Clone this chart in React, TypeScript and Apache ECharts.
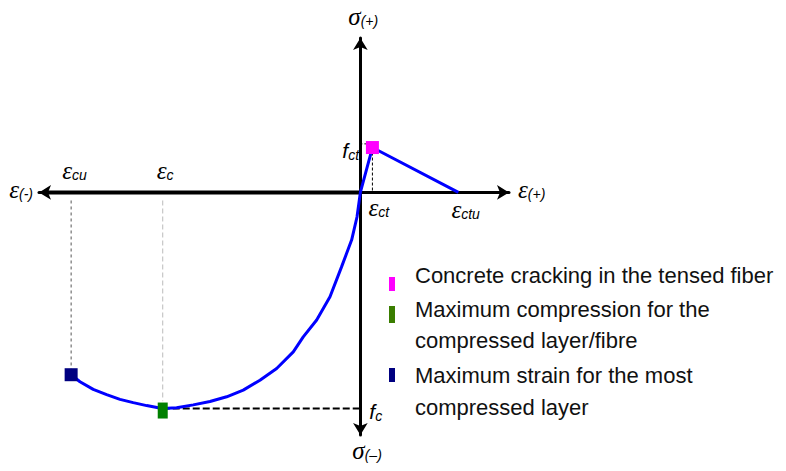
import { useEffect, useRef } from 'react';
import * as echarts from 'echarts';

// Axis extents (strain in ‰, stress in MPa) – schematic diagram
const X_MIN = -4;
const X_MAX = 1.85;
const Y_MIN = -33;
const Y_MAX = 21;

// Compression branch (from ultimate strain to origin)
const compStrain = [-3.6, -3.49, -3.325, -3.158, -2.992, -2.827, -2.66, -2.516, -2.46, -2.287, -2.08, -1.872, -1.664, -1.458, -1.25, -1.042, -0.835, -0.711, -0.544, -0.378, -0.233, -0.108, -0.042, 0];
const compStress = [-24.8, -25.75, -26.8, -27.5, -28.15, -28.6, -29.0, -29.3, -29.4, -29.3, -28.9, -28.45, -27.8, -26.9, -25.55, -23.95, -21.7, -19.65, -17.35, -14.2, -10.1, -6.45, -3.35, 0];

// Tension branch
const tensStrain = [0, 0.15, 1.22];
const tensStress = [0, 6.1, 0];

// Characteristic points
const epsCu = -3.6;
const sigCu = -24.8;
const epsC = -2.46;
const fc = -29.4;
const epsCt = 0.15;
const fct = 6.1;
const epsCtu = 1.22;

const legendItems = [
  'Concrete cracking in the tensed fiber',
  'Maximum compression for the',
  'compressed layer/fibre',
  'Maximum strain for the most',
  'compressed layer',
];

const BLUE = '#0000ff';
const MAGENTA = '#ff00ff';
const GREEN = '#008000';
const LEGEND_GREEN = '#3a7d00';
const NAVY = '#000080';

const SERIF = '"Liberation Serif", "DejaVu Serif", serif';
const SANS = '"Liberation Sans", Arial, sans-serif';

function symLabel(main: string, sub: string, x: number, y: number, align: string = 'left') {
  return {
    type: 'text',
    x,
    y,
    style: {
      text: `{m|${main}}{s|${sub}}`,
      align,
      verticalAlign: 'top',
      rich: {
        m: { fontFamily: SERIF, fontStyle: 'italic', fontSize: 25, fill: '#000', verticalAlign: 'top' },
        s: { fontFamily: SANS, fontStyle: 'italic', fontSize: 14, fill: '#000', verticalAlign: 'top', padding: [10, 0, 0, 0] },
      },
    },
    silent: true,
  };
}

function fLabel(sub: string, x: number, y: number) {
  return {
    type: 'text',
    x,
    y,
    style: {
      text: `{m|f}{s|${sub}}`,
      verticalAlign: 'top',
      rich: {
        m: { fontFamily: SANS, fontStyle: 'italic', fontSize: 21, fill: '#000', verticalAlign: 'top' },
        s: { fontFamily: SANS, fontStyle: 'italic', fontSize: 14, fill: '#000', verticalAlign: 'top', padding: [8, 0, 0, 0] },
      },
    },
    silent: true,
  };
}

export default function App() {
  const ref = useRef<HTMLDivElement>(null);

  useEffect(() => {
    if (!ref.current) return;
    const chart = echarts.init(ref.current, null, { renderer: 'svg' });

    const curve: number[][] = compStrain.map((x, i) => [x, compStress[i]]);
    for (let i = 1; i < tensStrain.length; i++) curve.push([tensStrain[i], tensStress[i]]);

    const dashed = (data: number[][], color: string, width: number, dash: number[] | string) => ({
      type: 'line',
      data,
      symbol: 'none',
      silent: true,
      lineStyle: { color, width, type: dash },
      z: 1,
    });

    chart.setOption({
      animation: false,
      backgroundColor: '#fff',
      grid: { left: 39, top: 38, width: 470, height: 397, containLabel: false },
      xAxis: {
        type: 'value',
        min: X_MIN,
        max: X_MAX,
        axisLine: {
          onZero: true,
          symbol: ['arrow', 'arrow'],
          symbolSize: [11, 12],
          lineStyle: { color: '#000', width: 3 },
        },
        axisTick: { show: false },
        axisLabel: { show: false },
        splitLine: { show: false },
      },
      yAxis: {
        type: 'value',
        min: Y_MIN,
        max: Y_MAX,
        axisLine: {
          onZero: true,
          symbol: ['arrow', 'arrow'],
          symbolSize: [11, 12],
          lineStyle: { color: '#000', width: 3 },
        },
        axisTick: { show: false },
        axisLabel: { show: false },
        splitLine: { show: false },
      },
      series: [
        // thicker negative half of the strain axis
        dashed([[X_MIN + 0.05, 0], [0, 0]], '#000', 4, 'solid'),
        dashed([[epsCu, -1.1], [epsCu, sigCu + 0.8]], '#555', 1, [3, 3]),
        dashed([[epsC, -1.1], [epsC, fc + 1]], '#bbbbbb', 1, [5, 3]),
        dashed([[epsCt, fct], [epsCt, 0]], '#000', 1, [3, 2]),
        dashed([[0, fct + 0.5], [epsCt, fct + 0.5]], '#000', 1, [2, 2]),
        dashed([[epsC, fc], [0, fc]], '#000', 2, [7, 3]),
        {
          type: 'line',
          data: curve,
          symbol: 'none',
          silent: true,
          lineStyle: { color: BLUE, width: 3 },
          z: 3,
        },
        {
          type: 'scatter',
          silent: true,
          z: 4,
          itemStyle: { opacity: 1 },
          data: [
            { value: [epsCt, fct], symbol: 'rect', symbolSize: 13, itemStyle: { color: MAGENTA, opacity: 1 } },
            { value: [epsC, fc], symbol: 'rect', symbolSize: [10, 16], symbolOffset: [0, 2], itemStyle: { color: GREEN, opacity: 1 } },
            { value: [epsCu, sigCu], symbol: 'rect', symbolSize: 13, itemStyle: { color: NAVY, opacity: 1 } },
          ],
        },
      ],
    });

    const px = (x: number, y: number) => chart.convertToPixel({ gridIndex: 0 }, [x, y]) as number[];
    const o = px(0, 0);
    const pCu = px(epsCu, 0);
    const pC = px(epsC, 0);
    const pCt = px(epsCt, 0);
    const pCtu = px(epsCtu, 0);
    const pFct = px(0, fct);
    const pFc = px(0, fc);
    const pXmin = px(X_MIN, 0);
    const pXmax = px(X_MAX, 0);
    const pYmax = px(0, Y_MAX);
    const pYmin = px(0, Y_MIN);

    const legendX = 415;
    const legendYs = [264, 298, 329, 364, 396];
    const swatches = [
      { y: 277, h: 14, color: MAGENTA },
      { y: 306, h: 17, color: LEGEND_GREEN },
      { y: 368, h: 14, color: NAVY },
    ];

    chart.setOption({
      graphic: [
        symLabel('ε', '(-)', pXmin[0] - 6, o[1] - 15, 'right'),
        symLabel('ε', '(+)', pXmax[0] + 9, o[1] - 15),
        symLabel('σ', '(+)', pYmax[0] - 12, pYmax[1] - 34),
        symLabel('σ', '(–)', pYmin[0] - 8, pYmin[1] + 3),
        symLabel('ε', 'cu', pCu[0] - 9, o[1] - 34),
        symLabel('ε', 'c', pC[0] - 6, o[1] - 34),
        symLabel('ε', 'ct', pCt[0] - 4, o[1] + 3),
        symLabel('ε', 'ctu', pCtu[0] - 7, o[1] + 5),
        fLabel('ct', pFct[0] - 18, pFct[1] - 8),
        fLabel('c', pFc[0] + 9, pFc[1] - 8),
        ...swatches.map((s) => ({
          type: 'rect',
          shape: { x: 389, y: s.y, width: 6, height: s.h },
          style: { fill: s.color },
          silent: true,
        })),
        ...legendItems.map((t, i) => ({
          type: 'text',
          x: legendX,
          y: legendYs[i],
          style: { text: t, fontFamily: SANS, fontSize: 22, fill: '#111', verticalAlign: 'top' },
          silent: true,
        })),
      ],
    });

    return () => chart.dispose();
  }, []);

  return <div ref={ref} style={{ width: 786, height: 471, position: 'absolute', left: 0, top: 0 }} />;
}
